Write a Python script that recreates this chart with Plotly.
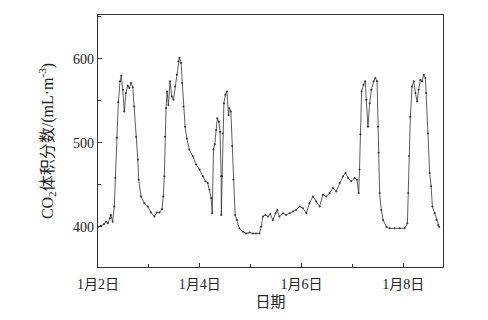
import plotly.graph_objects as go
import pandas as pd

# hours after 1月2日 00:00
hours = [0.0, 1.4, 2.8, 3.8, 4.7, 5.7, 6.1, 6.9, 7.7, 8.2, 8.8, 9.6, 10.4, 11.0, 11.7, 12.4, 13.2, 14.0,
         14.8, 15.6, 16.4, 17.1, 18.0, 18.8, 19.2, 20.3, 21.9, 23.5, 25.0, 26.6, 27.7, 29.0, 30.2, 30.8,
         31.3, 31.7, 32.1, 32.6, 33.2, 34.0, 34.8, 35.6, 36.4, 37.2, 37.9, 38.4, 39.2, 39.7, 40.3, 41.1,
         41.9, 43.1, 44.7, 46.3, 47.9, 49.5, 50.7, 51.8, 52.6, 53.4, 53.9, 54.5, 55.1, 55.7, 56.3, 57.0,
         57.6, 58.1, 58.2, 58.6, 58.9, 59.4, 60.1, 60.8, 61.6, 62.0, 62.7, 63.3, 63.9, 64.7, 65.5, 66.7,
         68.4, 69.9, 71.5, 73.1, 74.6, 76.2, 77.0, 77.8, 79.0, 80.2, 81.3, 82.5, 83.8, 84.6, 85.6, 87.3,
         88.8, 90.4, 92.0, 93.5, 95.1, 96.7, 98.3, 99.8, 101.4, 103.0, 104.6, 106.1, 107.7, 109.3, 110.9,
         112.4, 114.0, 115.6, 116.8, 118.0, 119.5, 121.1, 122.2, 123.0, 123.4, 123.8, 124.4, 125.3, 126.1,
         126.6, 127.4, 128.2, 129.0, 130.1, 130.9, 131.7, 132.1, 132.4, 132.9, 133.7, 134.5, 136.1, 137.6,
         140.0, 142.3, 144.7, 146.0, 146.4, 146.8, 147.4, 148.2, 149.0, 149.8, 150.6, 151.3, 152.1, 152.9,
         153.7, 154.5, 154.9, 155.7, 156.5, 157.2, 157.8, 158.9, 159.7, 160.5, 161.0]
co2 = [400, 401, 403, 406, 404, 410, 414, 406, 424, 458, 506, 548, 573, 580, 563, 537, 559, 568,
       565, 571, 566, 543, 507, 480, 456, 436, 428, 424, 417, 412, 417, 417, 421, 436,
       460, 507, 541, 561, 545, 573, 555, 551, 567, 581, 597, 601, 595, 571, 543, 519,
       505, 492, 484, 474, 468, 460, 454, 452, 444, 434, 416, 492, 498, 515, 529, 525,
       513, 460, 414, 460, 511, 547, 557, 561, 533, 541, 537, 496, 456, 414, 408, 398,
       394, 392, 393, 392, 392, 392, 400, 412, 414, 412, 415, 408, 416, 420, 412, 416,
       414, 416, 418, 420, 424, 422, 416, 428, 436, 430, 424, 438, 436, 440, 446,
       442, 452, 460, 464, 458, 454, 458, 456, 440, 468, 510, 561, 569, 573,
       551, 519, 547, 563, 573, 577, 573, 519, 488, 440, 420, 408, 400, 398,
       398, 398, 398, 404, 440, 484, 531, 567, 573, 559, 549, 563, 575, 573,
       581, 577, 559, 511, 464, 448, 424, 416, 408, 402, 400]

tick_dates = ["2023-01-02", "2023-01-04", "2023-01-06", "2023-01-08"]
tick_labels = ["1月2日", "1月4日", "1月6日", "1月8日"]
y_ticks = [400, 500, 600]

base = pd.Timestamp("2023-01-02")
times = [base + pd.Timedelta(hours=h) for h in hours]

fig = go.Figure()
fig.add_trace(go.Scatter(
    x=times, y=co2, mode="lines+markers",
    line=dict(color="#333333", width=0.8),
    marker=dict(color="#333333", size=2),
    showlegend=False,
))

font_fam = "Liberation Serif, Noto Sans CJK SC, serif"
fig.update_layout(
    width=488, height=320,
    margin=dict(l=98, r=45, t=15, b=53),
    paper_bgcolor="white", plot_bgcolor="white",
    font=dict(family=font_fam, size=14, color="#222222"),
)
fig.update_xaxes(
    type="date",
    range=[base, base + pd.Timedelta(hours=162.8)],
    tickmode="array", tickvals=tick_dates, ticktext=tick_labels,
    ticks="inside", ticklen=4, tickcolor="#333", tickwidth=1,
    minor=dict(ticks="inside", ticklen=3, dtick=86400000, tick0="2023-01-01", tickcolor="#333"),
    showline=True, linecolor="#333", linewidth=1.3, mirror=True,
    showgrid=False, zeroline=False,
    ticklabelstandoff=4,
    title=dict(text="日期", font=dict(size=15), standoff=5),
    tickfont=dict(size=14),
)
fig.update_yaxes(
    range=[352, 652],
    tickmode="array", tickvals=y_ticks,
    ticks="inside", ticklen=4, tickcolor="#333", tickwidth=1,
    minor=dict(ticks="inside", ticklen=3, dtick=50, tick0=0, tickcolor="#333"),
    showline=True, linecolor="#333", linewidth=1.3, mirror=True,
    showgrid=False, zeroline=False,
    title=dict(text="CO<sub>2</sub>体积分数/(mL·m<sup>-3</sup>)", font=dict(size=16), standoff=15),
    tickfont=dict(size=14),
)
fig.write_html("out.html")
